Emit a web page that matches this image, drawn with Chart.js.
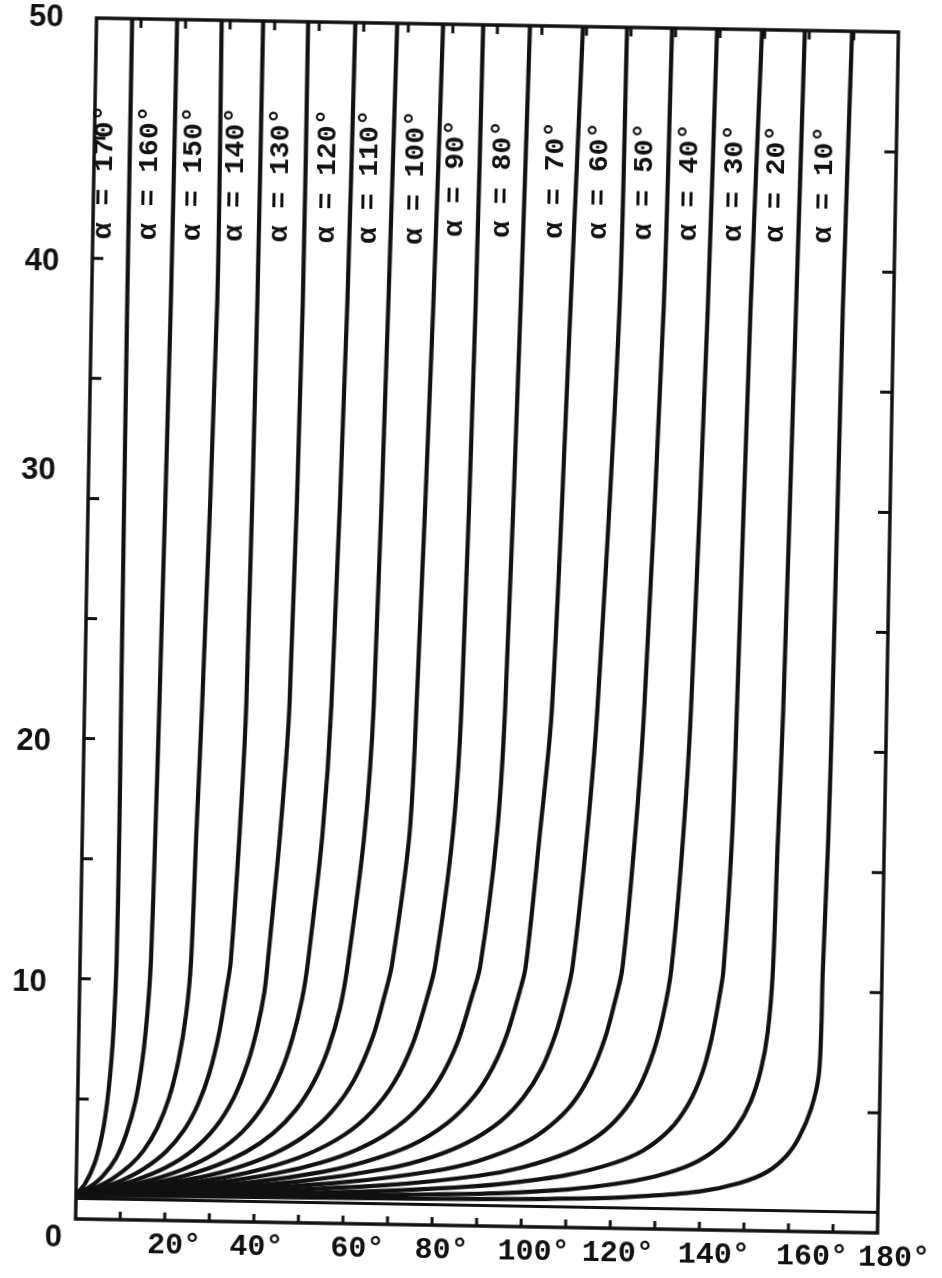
<!DOCTYPE html>
<html><head><meta charset="utf-8">
<script src="https://cdn.jsdelivr.net/npm/chart.js@4.4.1/dist/chart.umd.min.js"></script>
<style>
html,body{margin:0;padding:0;background:#fff;}
#wrap{width:942px;height:1278px;overflow:hidden;background:#fff;}
canvas{display:block;transform:rotate(1deg);transform-origin:487px 626px;}
</style></head><body><div id="wrap"><canvas id="c" width="942" height="1278"></canvas></div>
<script>
// alpha values of the curves
const alphas = [10,20,30,40,50,60,70,80,90,100,110,120,130,140,150,160,170];
// points [x (deg), y], bottom to top
const curve10  = [[0,1.0],[40,1.04],[80,1.1],[100,1.15],[117.5,1.24],[128.7,1.38],[140,1.6],[148.9,1.98],[154.9,2.45],[159.3,3.15],[162.1,3.95],[164.6,5.1],[166.2,6.5],[166.6,8.5],[166.7,10.8],[167.4,16.2],[167.8,21.6],[168.6,38.3],[169.6,50]];
const curve20  = [[0,1.0],[40,1.1],[80,1.28],[95,1.38],[110,1.58],[120,1.82],[130,2.2],[138,2.72],[144,3.45],[148,4.3],[151,5.35],[153.2,6.7],[154.6,8.3],[155.5,10.8],[156.1,16.2],[156.8,21.6],[158.1,38.3],[159.0,50]];
const curve30  = [[0,1.0],[40,1.18],[70,1.4],[90,1.66],[100,1.88],[110,2.18],[120,2.68],[127,3.25],[133,4.15],[137,5.2],[140,6.5],[142,7.95],[143.6,9.7],[144.4,10.8],[145.8,16.2],[146.4,21.6],[147.9,38.3],[149.4,50]];
const curve40  = [[0,1.0],[35,1.24],[70,1.64],[90,2.08],[100,2.47],[110,3.1],[117,3.85],[122,4.75],[126,5.9],[129,7.35],[131,8.85],[132.7,10.8],[134.8,16.2],[136.1,21.6],[138.3,38.3],[139.3,50]];
const curve50  = [[0,1.0],[30,1.27],[60,1.72],[80,2.25],[90,2.7],[100,3.45],[106,4.2],[111,5.15],[115,6.4],[118,7.85],[120,9.3],[121.7,10.8],[124,16.2],[125.6,21.6],[128.4,38.3],[129.2,50]];
const curve60  = [[0,1.0],[25,1.28],[50,1.72],[70,2.33],[80,2.85],[88,3.5],[95,4.38],[100,5.38],[104,6.6],[107,8.05],[109,9.45],[110.5,10.8],[113.2,16.2],[115.1,21.6],[118.5,38.3],[119.1,50]];
const curve70  = [[0,1.0],[20,1.27],[40,1.67],[55,2.13],[65,2.6],[75,3.3],[83,4.25],[89,5.4],[93,6.6],[96,7.95],[98.5,9.6],[100.0,10.8],[102.6,16.2],[104.9,21.6],[107.5,38.3],[109.2,50]];
const curve80  = [[0,1.0],[15,1.24],[30,1.57],[45,2.05],[55,2.53],[63,3.1],[70,3.83],[76,4.78],[81,6.03],[85,7.62],[88,9.5],[89.8,10.8],[93,16.2],[94.4,21.6],[96.3,38.3],[97.3,50]];
const curve90  = [[0,1.0],[15,1.3],[30,1.72],[42,2.23],[52,2.88],[60,3.7],[66,4.67],[71,5.93],[75,7.55],[78,9.45],[79.7,10.8],[83.1,16.2],[84.6,21.6],[86.2,38.3],[86.8,50]];
const curve100 = [[0,1.0],[12,1.28],[25,1.71],[35,2.19],[44,2.84],[51,3.61],[57,4.64],[62,6.0],[66,7.8],[68.5,9.55],[70,10.8],[73.4,16.2],[74.5,21.6],[76.7,38.3],[77.8,50]];
const curve110 = [[0,1.0],[10,1.28],[20,1.66],[30,2.23],[38,2.92],[44,3.71],[49,4.7],[53,5.9],[56,7.25],[58.5,8.95],[60.1,10.8],[63.3,16.2],[64.9,21.6],[66.6,38.3],[67.5,50]];
const curve120 = [[0,1.0],[8,1.27],[16,1.63],[24,2.15],[31,2.83],[37,3.73],[42,4.94],[45.5,6.27],[48,7.7],[50,9.35],[51.1,10.8],[53.9,16.2],[55.4,21.6],[57.4,38.3],[58.1,50]];
const curve130 = [[0,1.0],[6,1.25],[13,1.64],[20,2.2],[26,2.94],[31,3.91],[35,5.15],[38,6.6],[40,8.05],[41.5,9.6],[42.1,10.8],[44.4,16.2],[46,21.6],[47.4,38.3],[47.5,50]];
const curve140 = [[0,1.0],[5,1.27],[10,1.62],[15,2.12],[20,2.86],[24,3.78],[27,4.85],[29.5,6.2],[31.5,7.85],[33,9.7],[33.8,10.8],[35.3,16.2],[36.3,21.6],[37.2,38.3],[37.4,50]];
const curve150 = [[0,1.0],[4,1.29],[8,1.69],[12,2.27],[15,2.9],[18,3.86],[20.5,5.1],[22.5,6.7],[24,8.6],[24.9,10.8],[25.6,16.2],[26.4,21.6],[28.2,38.3],[28.1,50]];
const curve160 = [[0,1.0],[3,1.33],[6,1.82],[8.8,2.55],[11,3.55],[13,4.95],[14.4,6.7],[15.3,8.6],[15.9,10.8],[16.4,16.2],[16.8,21.6],[17.8,38.3],[18.1,50]];
const curve170 = [[0,1.0],[2,1.48],[4,2.3],[5.5,3.4],[6.5,4.65],[7.3,6.3],[7.8,8.0],[8.2,10.8],[8.3,16.2],[8.2,21.6],[8.0,38.3],[8.0,50]];
const baseLine = [[0,0.85],[180,0.85]];
// axis labels and tick marks
const xTickLabels = ['20°','40°','60°','80°','100°','120°','140°','160°','180°'];
const xTickLabelValues = [20,40,60,80,100,120,140,160,180];
const yTickLabels = ['0','10','20','30','40','50'];
const yTickLabelValues = [0,10,20,30,40,50];
const xTickMarks = [10,20,30,40,50,60,70,80,90,100,110,120,130,140,150,160,170];
const yTickMarks = [5,10,15,20,25,30,35,40,45];
// hand-placement offsets of the printed labels (pixels)
const xLabelShift = [1,-6,6,1,4,-1,6,15,8];
const yLabelShift = [19,5,4,-27,4,0];

const curves = [curve10,curve20,curve30,curve40,curve50,curve60,curve70,curve80,curve90,curve100,curve110,curve120,curve130,curve140,curve150,curve160,curve170];
const INK = '#111';
const datasets = curves.map((c,i)=>({
  label:'α = '+alphas[i]+'°',
  data:c.map(p=>({x:p[0],y:p[1]})),
  showLine:true, borderColor:INK, borderWidth:4.2, pointRadius:0, tension:0.3, fill:false
}));
datasets.push({label:'base',data:baseLine.map(p=>({x:p[0],y:p[1]})),showLine:true,borderColor:INK,borderWidth:3,pointRadius:0,tension:0});

const deco = {
  id:'deco',
  afterDraw(chart){
    const {ctx, chartArea:a, scales:{x,y}} = chart;
    ctx.save();
    ctx.strokeStyle = INK; ctx.fillStyle = INK;
    ctx.lineWidth = 3.5;
    ctx.strokeRect(a.left, a.top, a.right-a.left, a.bottom-a.top);
    ctx.lineWidth = 3;
    ctx.beginPath();
    for (const v of yTickMarks){
      const py = y.getPixelForValue(v);
      ctx.moveTo(a.left, py); ctx.lineTo(a.left+11, py);
      ctx.moveTo(a.right, py); ctx.lineTo(a.right-12, py);
    }
    for (const v of xTickMarks){
      const px = x.getPixelForValue(v);
      ctx.moveTo(px, a.bottom); ctx.lineTo(px, a.bottom-8);
      ctx.moveTo(px, a.top); ctx.lineTo(px, a.top+9);
    }
    ctx.stroke();
    // y labels
    ctx.font = 'bold 31px "Liberation Sans", Arial, sans-serif';
    ctx.textBaseline = 'middle';
    yTickLabels.forEach((t,i)=>{
      const v = yTickLabelValues[i];
      let py = y.getPixelForValue(v) + yLabelShift[i], px = a.left-33;
      if (v===0){ ctx.textAlign='center'; px = a.left-22; }
      else { ctx.textAlign='right'; }
      ctx.fillText(t, px, py);
    });
    // x labels
    ctx.font = 'bold 30px "Liberation Mono", "DejaVu Sans Mono", monospace';
    ctx.textAlign = 'left';
    xTickLabels.forEach((t,i)=>{
      const v = xTickLabelValues[i];
      const w = ctx.measureText(String(v)).width;
      ctx.fillText(t, x.getPixelForValue(v)-w/2+xLabelShift[i], a.bottom+25);
    });
    // curve labels
    ctx.font = 'bold 28px "Liberation Mono", "DejaVu Sans Mono", monospace';
    ctx.textAlign = 'center';
    curves.forEach((c,i)=>{
      const top = c[c.length-1];
      const px = x.getPixelForValue(top[0]) - 25;
      const py = y.getPixelForValue(43.6);
      ctx.save(); ctx.translate(px, py); ctx.rotate(-Math.PI/2);
      ctx.fillText('α = '+alphas[i]+'°', 0, 0);
      ctx.restore();
    });
    ctx.restore();
  }
};

new Chart(document.getElementById('c'), {
  type:'scatter',
  data:{datasets},
  options:{
    responsive:false, animation:false, devicePixelRatio:1,
    layout:{padding:{left:86,right:54,top:25,bottom:52}},
    plugins:{legend:{display:false},tooltip:{enabled:false},title:{display:false}},
    scales:{
      x:{type:'linear',min:0,max:180,display:false},
      y:{type:'linear',min:0,max:50,display:false}
    }
  },
  plugins:[deco]
});
</script></body></html>
